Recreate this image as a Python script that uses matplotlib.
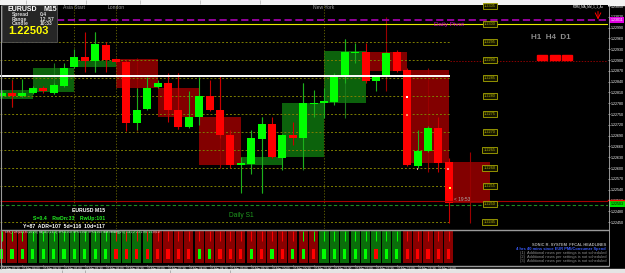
import matplotlib

matplotlib.use("Agg")
import matplotlib.pyplot as plt
import matplotlib.transforms as mtransforms
from matplotlib.patches import Rectangle
import numpy as np
import pandas as pd

plt.rcParams["font.family"] = ["Liberation Sans", "DejaVu Sans"]

W, H = 625, 273
BULL, BEAR = "#00ff00", "#ff0000"
BOX_BULL, BOX_BEAR = "#0c620c", "#820000"

SYMBOL = "EURUSD"
TIMEFRAME = "M15"
LAST_PRICE = 1.22503
ASK_PRICE = 1.22507
DAILY_PIVOT = 1.23011
DAILY_S1 = 1.22497
ROUND_LEVEL = 1.23000
WHITE_LEVEL = 1.22856
OPEN_LEVEL = 1.22897

# M15 candles (index 0 is the cut bar at the left edge)
OPEN = [1.22800, 1.22808, 1.22800, 1.22808, 1.22822, 1.22808, 1.22828, 1.22881, 1.22908, 1.22897,
        1.22942, 1.22903, 1.22894, 1.22725, 1.22764, 1.22825, 1.22836, 1.22761, 1.22714, 1.22742,
        1.22800, 1.22761, 1.22692, 1.22608, 1.22611, 1.22681, 1.22722, 1.22628, 1.22692, 1.22683,
        1.22778, 1.22781, 1.22783, 1.22853, 1.22919, 1.22922, 1.22842, 1.22856, 1.22922, 1.22872,
        1.22606, 1.22647, 1.22711, 1.22617]
HIGH = [1.22817, 1.22844, 1.22847, 1.22828, 1.22828, 1.22836, 1.22892, 1.22931, 1.22978, 1.22978,
        1.22950, 1.22906, 1.22900, 1.22822, 1.22853, 1.22844, 1.22864, 1.22864, 1.22814, 1.22853,
        1.22844, 1.22856, 1.22706, 1.22631, 1.22706, 1.22742, 1.22742, 1.22694, 1.22728, 1.22836,
        1.22817, 1.22822, 1.22864, 1.22958, 1.22947, 1.22947, 1.22858, 1.22922, 1.22928, 1.22878,
        1.22706, 1.22717, 1.22742, 1.22628]
LOW = [1.22797, 1.22769, 1.22797, 1.22806, 1.22808, 1.22806, 1.22825, 1.22878, 1.22867, 1.22867,
       1.22867, 1.22892, 1.22703, 1.22706, 1.22761, 1.22822, 1.22728, 1.22708, 1.22711, 1.22719,
       1.22758, 1.22683, 1.22600, 1.22531, 1.22583, 1.22531, 1.22628, 1.22594, 1.22664, 1.22600,
       1.22742, 1.22739, 1.22775, 1.22836, 1.22892, 1.22836, 1.22814, 1.22853, 1.22867, 1.22606,
       1.22600, 1.22644, 1.22589, 1.22447]
CLOSE = [1.22808, 1.22800, 1.22808, 1.22822, 1.22814, 1.22831, 1.22878, 1.22908, 1.22897, 1.22944,
         1.22900, 1.22894, 1.22725, 1.22761, 1.22822, 1.22836, 1.22761, 1.22714, 1.22742, 1.22800,
         1.22761, 1.22692, 1.22608, 1.22614, 1.22683, 1.22722, 1.22631, 1.22692, 1.22683, 1.22781,
         1.22781, 1.22786, 1.22853, 1.22922, 1.22922, 1.22842, 1.22856, 1.22919, 1.22869, 1.22608,
         1.22647, 1.22711, 1.22614, 1.22503]

# H1 candles drawn as boxes behind the M15 bars
H1_START = [-1, 3, 7, 11, 15, 19, 23, 27, 31, 35, 39, 43]
H1_OPEN = [1.22792, 1.22811, 1.22881, 1.22903, 1.22822, 1.22742, 1.22608, 1.22631, 1.22781, 1.22922, 1.22872, 1.22617]
H1_CLOSE = [1.22817, 1.22878, 1.22897, 1.22822, 1.22742, 1.22608, 1.22631, 1.22781, 1.22925, 1.22869, 1.22614, 1.22503]
H1_HIGH = [1.22847, 1.22892, 1.22978, 1.22906, 1.22864, 1.22856, 1.22742, 1.22836, 1.22958, 1.23020, 1.22878, 1.22644]
H1_LOW = [1.22769, 1.22806, 1.22867, 1.22703, 1.22708, 1.22600, 1.22531, 1.22594, 1.22739, 1.22814, 1.22589, 1.22447]

DOTTED_LEVELS = [1.2295, 1.2290, 1.2285, 1.2280, 1.2275, 1.2270, 1.2265, 1.2260, 1.2255, 1.2245]
BOXED_LEVELS = [1.2305, 1.2300, 1.2295, 1.2290, 1.2285, 1.2280, 1.2275, 1.2270, 1.2265, 1.2260,
                1.2255, 1.2250, 1.2245]

SESSION_NAMES = ["Asia Start", "London", "New York"]
SESSION_BARS = [7, 11, 31]

# lower indicator panel: column state, signal bar and top tick per bar
COLUMN_STATE = list("rrr" "gggggggggggg" "rrrrrrrrrrrrrrrr" "gggggggg" "rrrrr")
SIGNAL_STATE = list("ggggggggggg" "rrrrrrrr" "gg" "rrr" "grgr" "gg" "r" "ggggg" "r" "gg" "rrrrr")
TOP_STATE = list("ggggggggggg" "rrrrrrrrrrrrrrrrrr" "gggggggggg" "rrrrr")

MARKERS_X = [39, 39, 40, 42.9, 43.1]
MARKERS_Y = [1.22797, 1.22747, 1.22597, 1.22597, 1.22544]
MARKERS_C = ["#ffffff", "#ff9060", "#ff9090", "#ff9090", "#ffff40"]

NEWS_LINES = [
    ("SONIC R. SYSTEM  FFCAL HEADLINES", "#a8a8a8"),
    ("4 hrs 40 mins since EUR PMI/Consumer Spend", "#3a5cff"),
    ("(1)  Additional news per settings is not scheduled", "#8c8c8c"),
    ("(2)  Additional news per settings is not scheduled", "#8c8c8c"),
    ("(3)  Additional news per settings is not scheduled", "#8c8c8c"),
]
STATS_LINES = [
    ("EURUSD M15", "white"),
    ("S=0.4    RwDn:33    RwUp:101", "#22ee22"),
    ("Y=87  ADR=107  5d=116  10d=117", "white"),
]

TIMES = pd.date_range("2018-03-20 03:30", periods=len(OPEN), freq="15min")

X_LIM = (-0.154, 58.31)
Y_LIM = (1.2243056, 1.2305278)


def rect(x0, y0, x1, y1):
    return [x0 / W, 1 - y1 / H, (x1 - x0) / W, (y1 - y0) / H]


fig = plt.figure(figsize=(W / 100, H / 100), dpi=100, facecolor="black")

bg = fig.add_axes([0, 0, 1, 1], zorder=0)
bg.set_xlim(0, W)
bg.set_ylim(H, 0)
bg.axis("off")
bg.add_patch(Rectangle((0, 0), W, 5, color="#f3f3f3"))
bg.add_patch(Rectangle((0, 269), W, 4, color="#e4e4e4"))
for tx in (26, 86, 140, 200, 260):
    bg.vlines(tx, 0, 4, color="#b0b0b0", lw=0.5)
for tx in (62, 85, 170, 230):
    bg.vlines(tx, 270, 273, color="#9a9a9a", lw=0.5)

# ---- main price panel
ax = fig.add_axes(rect(0, 5, 608, 229), zorder=1)
ax.set_facecolor("black")
ax.set_xlim(*X_LIM)
ax.set_ylim(*Y_LIM)
for spine in ax.spines.values():
    spine.set_visible(False)
ax.tick_params(axis="x", bottom=False, labelbottom=False)
ticks = np.round(1.22450 + 0.0003 * np.arange(21), 5)
ax.yaxis.tick_right()
ax.set_yticks(ticks)
ax.set_yticklabels([f"{t:.5f}" for t in ticks])
ax.tick_params(axis="y", colors="white", labelsize=2.6, length=1.5, width=0.4, pad=0.8)

for start, o, c, hi, lo in zip(H1_START, H1_OPEN, H1_CLOSE, H1_HIGH, H1_LOW):
    color = BOX_BULL if c >= o else BOX_BEAR
    ax.add_patch(Rectangle((start, min(o, c)), 4, abs(c - o), facecolor=color, edgecolor="none", zorder=2))
    ax.vlines(start + 2, lo, hi, color="#1c7a1c" if c >= o else "#9a0000", lw=0.8, zorder=2)

ax.hlines(DOTTED_LEVELS, X_LIM[0], 43.1, colors="#7e7e00", linestyles=(0, (2, 2)), lw=0.7, zorder=3)
ax.vlines(SESSION_BARS, Y_LIM[0], Y_LIM[1], colors="#6a6a00", linestyles=(0, (1.5, 2)), lw=0.6, zorder=3)
ax.hlines(OPEN_LEVEL, 43.1, X_LIM[1], colors="#8a0000", linestyles=(0, (1.5, 1.5)), lw=0.7, zorder=3)

idx = np.arange(len(OPEN))
o, hi, lo, c = (np.asarray(v) for v in (OPEN, HIGH, LOW, CLOSE))
up = c >= o
ax.vlines(idx, lo, hi, colors=np.where(up, "#1cb01c", "#c80000"), lw=0.8, zorder=4)
ax.bar(idx, np.maximum(np.abs(c - o), 0.00003), bottom=np.minimum(o, c), width=0.78,
       color=np.where(up, BULL, BEAR), linewidth=0, zorder=5)
ax.scatter(MARKERS_X, MARKERS_Y, s=1.5, c=MARKERS_C, marker="s", linewidths=0, zorder=6)

ax.hlines(WHITE_LEVEL, X_LIM[0], 43.1, colors="white", lw=1.4, zorder=6)
ax.hlines(DAILY_PIVOT, 5.3, X_LIM[1], colors="#a000a8", linestyles=(0, (4, 2)), lw=1.3, zorder=6)
ax.hlines(ROUND_LEVEL, 5.3, X_LIM[1], colors="#e8e800", lw=0.8, zorder=6)
ax.hlines(ASK_PRICE, X_LIM[0], X_LIM[1], colors="#a80000", lw=0.8, zorder=6)
ax.hlines(DAILY_S1, X_LIM[0], X_LIM[1], colors="#1f8a1f", linestyles=(0, (3, 2)), lw=0.8, zorder=6)

ax.text(41.6, DAILY_PIVOT - 0.00013, "Daily Pivot", color="#d000d0", fontsize=4.6, va="center", zorder=7)
ax.text(21.9, DAILY_S1 - 0.0003, "Daily S1", color="#1f9a1f", fontsize=4.8, va="center", zorder=7)
ax.text(43.5, ASK_PRICE + 0.00005, "< 19:53", color="#b0b0b0", fontsize=3.4, va="center", zorder=7)

for level in BOXED_LEVELS:
    ax.text(46.95, level, f"{level:.4f}", color="#b4b400", fontsize=2.8, ha="center", va="center", zorder=7,
            bbox=dict(boxstyle="square,pad=0.35", facecolor="#141400", edgecolor="#a8a800", linewidth=0.6))

top = mtransforms.blended_transform_factory(ax.transData, ax.transAxes)
for name, bar in zip(SESSION_NAMES, SESSION_BARS):
    ax.text(bar, 0.99, name, transform=top, color="#9a9a9a", fontsize=3.6, ha="center", va="center", zorder=7)

side = mtransforms.blended_transform_factory(ax.transAxes, ax.transData)
ax.text(1.004, DAILY_PIVOT, f"{DAILY_PIVOT:.5f}", transform=side, color="white", fontsize=2.6, va="center",
        clip_on=False, zorder=8, bbox=dict(boxstyle="square,pad=0.3", facecolor="#e000e0", edgecolor="none"))
ax.text(1.004, LAST_PRICE - 0.00003, f"{LAST_PRICE:.5f}", transform=side, color="black", fontsize=2.6,
        va="center", clip_on=False, zorder=8,
        bbox=dict(boxstyle="square,pad=0.3", facecolor="#00e000", edgecolor="none"))
ax.plot([1.0, 1.03], [ASK_PRICE + 0.00004] * 2, transform=side, color="red", lw=1.0, clip_on=False, zorder=8)

# ---- lower indicator panel
ind = fig.add_axes(rect(0, 230, 608, 265), zorder=1)
ind.set_facecolor("black")
ind.set_xlim(*X_LIM)
ind.set_ylim(0, 1)
for spine in ind.spines.values():
    spine.set_visible(False)
ind.tick_params(axis="y", left=False, labelleft=False)
state_dark = {"g": "#0a6e0a", "r": "#8a0000"}
state_bright = {"g": BULL, "r": BEAR}
ind.bar(idx, 0.91, bottom=0.06, width=0.88, color=[state_dark[s] for s in COLUMN_STATE], linewidth=0)
ind.bar(idx, 0.29, bottom=0.17, width=0.3, color=[state_bright[s] for s in SIGNAL_STATE], linewidth=0)
ind.vlines(idx, 0.69, 0.97, colors=[state_bright[s] for s in TOP_STATE], lw=0.7)
ind.set_xticks(idx[::2])
ind.set_xticklabels([t.strftime("%d %b %H:%M") for t in TIMES[::2]], ha="left")
ind.tick_params(axis="x", colors="white", labelsize=2.2, length=1, width=0.4, pad=0.6)
ind.text(0.3, 0.93, "SFX_TOR(14,3,80,20,0,0)  tor(14,3,1.4,1)  SFX:0.000  SFX:0.000  SFX:0.000  "
         "NonTrending(0.5)  1.4,1,2  2.2,1.9,0  1.3,0,0.0", color="white", fontsize=2.0, va="center")

# ---- overlay: frame, info box, labels
fg = fig.add_axes([0, 0, 1, 1], zorder=5)
fg.set_xlim(0, W)
fg.set_ylim(H, 0)
fg.axis("off")
fg.patch.set_alpha(0)
fg.hlines([229.5, 265.5], 0, 608.5, color="#9a9a9a", lw=1.0)
fg.vlines(608.5, 5, 266, color="#b0b0b0", lw=0.6)
fg.vlines(0.5, 5, 269, color="#9a9a9a", lw=0.8)

fg.add_patch(Rectangle((2, 5), 55, 37, facecolor="#262626", edgecolor="#555555", lw=0.6))
fg.text(8, 9.5, SYMBOL, color="white", fontsize=5, fontweight="bold", va="center")
fg.text(43, 9.5, TIMEFRAME, color="white", fontsize=5, fontweight="bold", va="center")
for row, (label, value) in enumerate([("Spread", "0.4"), ("Range", "12, 57"), ("Candle", "10:33")]):
    fg.text(12, 14.6 + 4.4 * row, label, color="#d8d8d8", fontsize=3.6, fontweight="bold", va="center")
    fg.text(40, 14.6 + 4.4 * row, value, color="#d8d8d8", fontsize=3.6, fontweight="bold", va="center")
fg.text(8, 31.3, f"{LAST_PRICE:.5f}", color="#ffff00", fontsize=8, fontweight="bold", va="center")

fg.text(550.5, 37.5, "H1  H4  D1", color="#8c8c8c", fontsize=5.8, fontweight="bold", ha="center", va="center")
for sx in (537, 549.5, 562):
    fg.add_patch(Rectangle((sx, 55), 10, 4.5, color="#ff0000"))
fg.text(604, 6.3, "MMM_MA_Mtf_1_1_Ac", color="white", fontsize=2.2, ha="right", va="center")
fg.annotate("", xy=(598, 19.5), xytext=(598, 11.5),
            arrowprops=dict(arrowstyle="->", color="red", lw=0.7, shrinkA=0, shrinkB=0))

for row, (line, color) in enumerate(STATS_LINES):
    fg.text(105, 210.5 + 8.2 * row, line, color=color, fontsize=3.7, fontweight="bold", ha="right", va="center")
for row, (line, color) in enumerate(NEWS_LINES):
    weight = "bold" if row < 2 else "normal"
    fg.text(606, 245 + 3.9 * row, line, color=color, fontsize=2.9, fontweight=weight, ha="right", va="center")

fig.savefig("out.png", dpi=100, facecolor="black")
